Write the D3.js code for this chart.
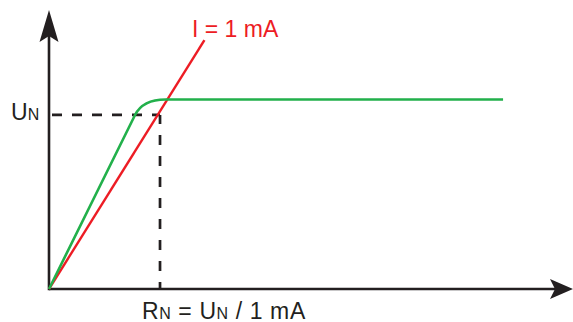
<!DOCTYPE html>
<html>
<head>
<meta charset="utf-8">
<script src="https://cdn.jsdelivr.net/npm/d3@7"></script>
<style>
  body { margin: 0; background: #fff; }
  svg { display: block; font-family: "Liberation Sans", Arial, sans-serif; }
</style>
</head>
<body>
<svg id="chart" width="573" height="322"></svg>
<script>
// 数据 (单位: U/UN, R/RN)
var axisMax = [4.72, 1.603];           // 坐标轴终点 [x, y]
var ratedPoint = [1.0, 1.0];           // (RN, UN)
var redLine = [[0, 0], [1.40, 1.43]];  // I = 1 mA
var greenKnee = [[0, 0], [0.775, 1.0], [0.845, 1.089], [1.05, 1.089], [4.09, 1.089]];
var redLabel = "I = 1 mA";
var yLabel = [["U", 23], ["N", 16]];
var xLabel = [["R", 23], ["N", 16], [" = U", 23], ["N", 16], [" / 1 mA", 23]];

var svg = d3.select("#chart");

var x = d3.scaleLinear().domain([0, axisMax[0]]).range([49, 573]);
var y = d3.scaleLinear().domain([0, axisMax[1]]).range([289, 10]);

var axisColor = "#231f20";

//坐标轴
svg.append("line")
    .attr("x1", x(0)).attr("y1", y(0))
    .attr("x2", x(axisMax[0]) - 12).attr("y2", y(0))
    .attr("stroke", axisColor).attr("stroke-width", 2.6);
svg.append("line")
    .attr("x1", x(0)).attr("y1", y(0) + 1.3)
    .attr("x2", x(0)).attr("y2", y(axisMax[1]) + 12)
    .attr("stroke", axisColor).attr("stroke-width", 2.6);

//箭头
function arrowHead(tx, ty, dir) {
    var pts;
    if (dir === "up") {
        pts = [[tx, ty], [tx + 9.5, ty + 32], [tx, ty + 26], [tx - 9.5, ty + 32]];
    } else {
        pts = [[tx, ty], [tx - 23, ty + 10], [tx - 18, ty], [tx - 23, ty - 10]];
    }
    svg.append("path")
        .attr("d", d3.line()(pts) + "Z")
        .attr("fill", axisColor);
}
arrowHead(x(0), y(axisMax[1]), "up");
arrowHead(x(axisMax[0]), y(0), "right");

//虚线
svg.append("line")
    .attr("x1", x(0) + 3).attr("y1", y(ratedPoint[1]))
    .attr("x2", x(ratedPoint[0])).attr("y2", y(ratedPoint[1]))
    .attr("stroke", axisColor)
    .attr("stroke-width", 2.7)
    .attr("stroke-dasharray", "10,10");
svg.append("line")
    .attr("x1", x(ratedPoint[0])).attr("y1", y(0))
    .attr("x2", x(ratedPoint[0])).attr("y2", y(ratedPoint[1]))
    .attr("stroke", axisColor)
    .attr("stroke-width", 2.7)
    .attr("stroke-dasharray", "10,11")
    .attr("stroke-dashoffset", 3);

//红线
svg.append("path")
    .attr("d", d3.line().x(function (d) { return x(d[0]); }).y(function (d) { return y(d[1]); })(redLine))
    .attr("fill", "none")
    .attr("stroke", "#ed1c24")
    .attr("stroke-width", 2.4);

//绿线 (直线 + 圆角 + 水平线)
var p = d3.path();
p.moveTo(x(greenKnee[0][0]), y(greenKnee[0][1]));
p.lineTo(x(greenKnee[1][0]), y(greenKnee[1][1]));
p.quadraticCurveTo(x(greenKnee[2][0]), y(greenKnee[2][1]), x(greenKnee[3][0]), y(greenKnee[3][1]));
p.lineTo(x(greenKnee[4][0]), y(greenKnee[4][1]));
svg.append("path")
    .attr("d", p.toString())
    .attr("fill", "none")
    .attr("stroke", "#22b04b")
    .attr("stroke-width", 2.6)
    .attr("stroke-linejoin", "round");

//文字
svg.append("text")
    .attr("x", 192).attr("y", 37)
    .attr("font-size", 23)
    .attr("fill", "#ed1c24")
    .text(redLabel);

function richText(parts, tx, ty) {
    var t = svg.append("text")
        .attr("x", tx).attr("y", ty)
        .attr("fill", axisColor)
        .attr("xml:space", "preserve");
    parts.forEach(function (d) {
        t.append("tspan").attr("font-size", d[1]).text(d[0]);
    });
    return t;
}
richText(yLabel, 11, y(ratedPoint[1]) + 5);
richText(xLabel, 142, 319).attr("letter-spacing", 0.6);
</script>
</body>
</html>
